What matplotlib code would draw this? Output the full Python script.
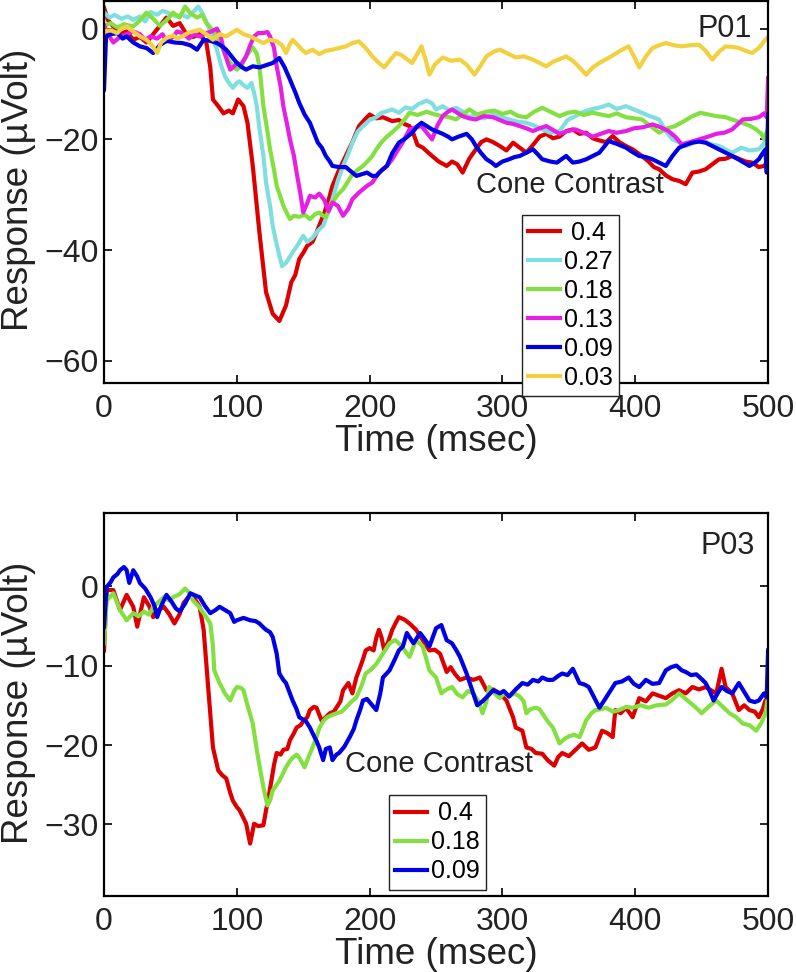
import numpy as np
import matplotlib
matplotlib.use("Agg")
import matplotlib.pyplot as plt

plt.rcParams['font.family'] = ['Liberation Sans', 'DejaVu Sans']

# ---- P01 (t in msec, response in uV) ----
p01_red = [(0, 3.8), (3, 1.5), (7, 0.4), (12, -1.0), (17, -0.5), (22, -2.0), (27, -1.5), (32, -2.5),
           (37, -1.0), (42, 0.5), (47, 2.0), (52, 0.5), (57, 1.0), (62, -1.0), (67, -1.5), (72, -1.0),
           (77, -2.5), (80, -7), (82, -12.8), (86, -14), (90, -15.3), (94, -14.8), (97, -15.3),
           (101, -12.8), (105, -14), (108, -17), (112, -24.8), (117, -36.8), (122, -47.6), (127, -51.5),
           (132, -52.8), (137, -50), (141, -45.8), (144, -44.5), (147, -41.6), (150, -40.5), (153, -39.2),
           (157, -38.5), (160, -36.8), (163, -35), (166, -33.2), (169, -31), (172, -28.4), (177, -25.5),
           (182, -23), (187, -20.5), (192, -17.6), (196, -16.5), (200, -15.5), (205, -16.2), (210, -16),
           (217, -16.7), (222, -16.5), (226, -17.2), (230, -17.6), (233, -19), (236, -21), (240, -21.5),
           (247, -23), (252, -24), (258, -24.8), (262, -24.0), (266, -24.5), (270, -26), (275, -23.5),
           (280, -21.8), (284, -20.5), (288, -20), (293, -20.5), (298, -21.2), (303, -22), (308, -20.6),
           (313, -21.5), (318, -22.4), (323, -21), (328, -19.5), (333, -19), (338, -19.8), (343, -19.5),
           (348, -18.5), (353, -18.2), (358, -19), (363, -18.8), (368, -19.8), (373, -20.2), (378, -20.5),
           (383, -19.4), (388, -20.5), (393, -21.2), (398, -21.8), (405, -23), (410, -24), (414, -25),
           (418, -25.4), (423, -26.5), (428, -27.2), (433, -27.5), (438, -28.1), (443, -26), (448, -25.8),
           (453, -25.4), (458, -24.5), (463, -23.6), (468, -23.5), (473, -23), (478, -23.5), (483, -24),
           (488, -24.2), (493, -25), (497, -24.8), (500, -24)]

p01_cyan = [(0, 2.9), (4, 2.0), (8, 2.5), (13, 1.8), (18, 2.2), (22, 1.6), (27, 2.2), (31, 1.3), (35, 3.0),
            (40, 2.5), (44, 3.2), (47, 3.0), (51, 2.5), (55, 2.2), (59, 2.5), (63, 2.0), (67, 3.0), (71, 4.0),
            (74, 2.8), (77, 1.3), (81, -1), (85, -3.8), (88, -6.5), (91, -8.6), (94, -9.8), (97, -10.7),
            (100, -9.8), (102, -9.5), (105, -10.2), (108, -10.7), (111, -9.8), (113, -11.6), (115, -14),
            (117, -18), (120, -23), (122, -27.8), (125, -32), (127, -35.6), (130, -39), (134, -42.9),
            (137, -42.3), (140, -41.2), (142, -40.4), (146, -39), (150, -37.4), (153, -38.5), (157, -37.8),
            (161, -36.5), (165, -35.6), (169, -33), (172, -30.8), (176, -27.5), (180, -24.8), (184, -22.5),
            (187, -20.6), (191, -18.6), (195, -17.6), (200, -16.5), (205, -16), (209, -15.2), (213, -14.9),
            (217, -14.6), (222, -15.2), (227, -14.2), (232, -14.5), (237, -13.6), (243, -13), (247, -13.5),
            (250, -14.6), (255, -14), (260, -14.8), (265, -14.3), (270, -15), (275, -16), (280, -15.5),
            (286, -16.2), (293, -15.5), (299, -16), (305, -16.4), (311, -16.8), (318, -17), (324, -17.5),
            (330, -18.2), (336, -18.8), (343, -18.5), (349, -16.5), (355, -15.8), (361, -15), (368, -14.5),
            (374, -14.2), (380, -13.7), (386, -14.5), (393, -14), (399, -14.6), (405, -15.2), (411, -15.8),
            (418, -16.4), (423, -18.5), (428, -20), (433, -20.5), (438, -21.2), (444, -20.5), (450, -20),
            (456, -20.8), (463, -21.2), (468, -21.8), (473, -22.4), (480, -21.5), (486, -22), (493, -21.8),
            (498, -20.5), (500, -19)]

p01_green = [(0, 0.5), (5, 1.0), (10, 0.2), (15, 0.8), (22, 0.4), (27, 1.5), (32, 2.9), (37, 1.8), (42, 0.5),
             (47, 1.5), (52, 2.9), (57, 2.0), (61, 4.0), (65, 2.8), (70, 2.0), (74, 2.5), (77, 1.0), (81, 0),
             (85, -1.4), (88, -3), (92, -5), (96, -6.5), (100, -7.4), (104, -6.5), (107, -5), (110, -4),
             (112, -3.4), (115, -4.5), (117, -6.8), (120, -14), (123, -18.5), (125, -21.8), (128, -25.5),
             (130, -28.4), (133, -30.5), (135, -32), (138, -33.5), (140, -34.4), (143, -33.8), (147, -34),
             (151, -33.6), (155, -34.4), (159, -33.5), (162, -33.2), (165, -33.8), (167, -34), (170, -32.5),
             (172, -31.4), (176, -30), (180, -29), (184, -27.5), (187, -26.3), (191, -25.5), (195, -24.8),
             (199, -23.8), (202, -23), (205, -21.8), (209, -20.5), (213, -19.5), (218, -18.5), (222, -17.6),
             (226, -16.5), (230, -15.2), (236, -15.6), (243, -15), (249, -15.5), (255, -15.8), (260, -16),
             (265, -16.4), (270, -15.5), (275, -14.6), (281, -15.5), (288, -15), (294, -14.8), (300, -15.4),
             (306, -15), (312, -15.8), (318, -16), (324, -15), (330, -14.3), (336, -15), (343, -15.8),
             (349, -15.2), (355, -15), (361, -15.6), (368, -15.2), (374, -15.5), (380, -15.8), (386, -15.3),
             (393, -16), (399, -16.2), (405, -16.4), (411, -17.5), (418, -18.8), (424, -18), (430, -17.6),
             (436, -16.8), (443, -15.8), (449, -15.2), (455, -15.5), (461, -15.8), (468, -16), (474, -16.5),
             (480, -17), (486, -17.5), (491, -18.2), (495, -19), (497, -20), (500, -18)]

p01_magenta = [(0, 0.6), (3, -1.0), (7, -2.5), (12, -1.5), (17, -1.0), (22, -0.5), (27, -1.0), (31, -2.0),
               (35, -1.4), (40, -1.8), (44, -1.0), (47, -2.3), (52, -1.5), (55, -0.5), (59, -0.8), (64, -1.8),
               (68, -1.0), (72, -1.4), (77, -0.8), (81, -0.5), (85, 0), (88, -1.5), (90, -3.8), (93, -6),
               (95, -7.4), (98, -6.8), (100, -6.2), (103, -6.5), (107, -5), (110, -3), (113, -1.4), (116, -0.8),
               (120, -0.8), (123, -0.6), (125, -1.4), (128, -3.5), (130, -6.8), (133, -10.5), (135, -14),
               (138, -17.5), (140, -20), (143, -23), (145, -26), (148, -30), (150, -33.2), (153, -31.5),
               (155, -30.2), (159, -30.5), (162, -29.8), (166, -31), (169, -33), (172, -31.4), (176, -32),
               (180, -33.8), (184, -32.5), (187, -30.8), (192, -29.6), (198, -28.4), (202, -27.8), (207, -26),
               (213, -24.8), (217, -23.6), (220, -22.4), (225, -20.5), (230, -18.2), (235, -17.8), (239, -17.6),
               (243, -18.8), (247, -20), (251, -17.5), (255, -15.8), (259, -15), (262, -14.6), (266, -15.2),
               (270, -15.8), (275, -16.2), (280, -16.4), (286, -15.8), (293, -16), (298, -16.5), (303, -17),
               (308, -17.2), (313, -17.6), (318, -18), (323, -18.5), (328, -18), (333, -17.6), (338, -18.3),
               (343, -19), (349, -18.5), (355, -18.2), (361, -18.8), (368, -19.5), (374, -19), (380, -18.5),
               (386, -18.8), (393, -18.5), (399, -18), (406, -17.8), (413, -17.3), (419, -17.8), (425, -18.5),
               (430, -19.5), (435, -20.9), (441, -20.5), (448, -20), (455, -19.5), (461, -19), (467, -18.8),
               (473, -18.2), (477, -17.3), (481, -16.4), (487, -16.3), (493, -16), (497, -15.3), (499, -16),
               (500, -9)]

p01_blue = [(0, -11), (1.5, -1.4), (5, -1.0), (10, -0.8), (14, -1.8), (17, -1.4), (22, -2.5), (27, -3.2),
            (32, -3.5), (37, -4.4), (42, -3.0), (47, -2.2), (53, -2.5), (59, -2.6), (65, -3.0), (70, -3.8),
            (75, -2.0), (80, -2.2), (85, -2.6), (89, -3.2), (92, -3.8), (96, -5), (100, -6.2), (104, -7),
            (107, -7.4), (112, -6.8), (117, -7), (122, -6.6), (127, -6.2), (132, -5.3), (136, -7), (140, -9.2),
            (144, -11.5), (147, -13.4), (151, -15.5), (155, -17), (158, -18.8), (161, -20.6), (164, -21.5),
            (167, -23), (170, -24), (172, -24.8), (177, -25), (182, -25), (186, -25.8), (190, -26.6),
            (194, -26.3), (198, -26), (202, -26.6), (205, -26.6), (209, -25.6), (213, -24.8), (217, -22.5),
            (222, -20.6), (227, -19.8), (232, -18.8), (236, -17.6), (239, -17), (243, -17.6), (247, -18.2),
            (251, -18.6), (255, -19), (259, -19.5), (262, -20), (267, -19.5), (273, -19), (277, -20),
            (280, -21.2), (284, -22.5), (288, -23.6), (292, -24.2), (295, -24.8), (300, -24), (305, -23.6),
            (309, -23.2), (313, -23), (318, -22.4), (323, -21.8), (327, -22.8), (330, -23.6), (336, -24),
            (341, -24.2), (345, -23.5), (348, -23), (353, -24.2), (358, -24), (363, -23.6), (368, -23),
            (373, -22.4), (377, -21.2), (380, -20.3), (386, -20.8), (393, -21.5), (398, -22.3), (403, -23),
            (408, -23.2), (413, -23.6), (418, -24.2), (423, -24.8), (428, -23), (433, -21.5), (438, -21),
            (443, -20.6), (448, -20.4), (453, -20.6), (458, -21.2), (463, -21.8), (468, -22.4), (473, -23),
            (479, -23.8), (486, -24.8), (490, -24.2), (493, -23.6), (496, -22.5), (498, -21.8), (499, -26),
            (500, -15.5)]

p01_yellow = [(0, -0.5), (5, -0.3), (10, -0.8), (13, 0), (17, 0.4), (22, -0.5), (27, -1.4), (32, -2.0),
              (36, -3.0), (40, -4.4), (43, -2.5), (47, -1.7), (52, -1.2), (55, -1.8), (59, -1.4), (63, -0.8),
              (67, -0.5), (72, -0.2), (77, -1.0), (82, -2.0), (87, -1.0), (92, -1.4), (96, -0.8), (100, -0.2),
              (105, -1.0), (110, -1.4), (115, -2.0), (120, -2.6), (125, -2.0), (130, -2.3), (134, -3.0),
              (137, -4.4), (140, -2.8), (142, -2.0), (146, -3.0), (149, -3.8), (152, -4.4), (157, -3.8),
              (162, -4.6), (167, -4.0), (172, -3.8), (177, -3.5), (182, -3.2), (187, -2.6), (192, -2.3),
              (197, -3.5), (202, -5.0), (206, -6.0), (211, -7.0), (216, -5.5), (220, -4.4), (224, -4.8),
              (228, -5.5), (232, -6.2), (236, -4.5), (239, -3.2), (242, -5.5), (245, -8.3), (249, -6.5),
              (255, -5.2), (261, -5.8), (268, -5.6), (273, -6.5), (279, -8.3), (284, -6.5), (288, -5.0),
              (293, -4.2), (298, -3.8), (304, -4.5), (310, -5.2), (316, -5.0), (323, -5.6), (328, -6.2),
              (333, -6.8), (338, -6.0), (343, -5.5), (348, -5.0), (353, -5.8), (358, -7.0), (363, -8.3),
              (368, -7.0), (373, -6.2), (379, -5.4), (386, -4.4), (390, -3.8), (395, -3.2), (399, -5),
              (403, -7.0), (408, -5), (413, -3.5), (418, -3.0), (423, -2.6), (429, -3.0), (435, -3.2),
              (441, -3.0), (448, -2.9), (453, -4.0), (458, -5.6), (463, -4.2), (468, -3.2), (473, -3.3),
              (478, -3.5), (483, -4.0), (488, -4.4), (493, -3.5), (498, -2.0), (500, -1.5)]

# ---- P03 ----
p03_red = [(0, -8.1), (2, -0.5), (7, -0.5), (12, -3.0), (17, -1.1), (22, -2.6), (25, -5.1), (30, -1.4),
           (34, -2.5), (37, -3.9), (41, -3.0), (45, -2.6), (49, -3.5), (53, -4.7), (57, -3.5), (60, -2.1),
           (65, -1.1), (69, -1.8), (72, -2.6), (75, -5.5), (78, -11.8), (80, -16), (82, -20.3), (86, -23.2),
           (89, -23.8), (92, -24.2), (95, -26), (97, -27), (100, -27.8), (102, -28.2), (105, -29.2),
           (107, -29.9), (110, -32.4), (113, -29.9), (116, -30.2), (120, -30.1), (122, -28.2), (124, -26.5),
           (126, -24.5), (128, -22.5), (130, -21), (133, -21.2), (135, -20.6), (138, -20.5), (140, -19.4),
           (143, -18.5), (145, -17.8), (148, -17.5), (150, -17), (153, -16.5), (155, -15.6), (158, -15.2),
           (160, -15.3), (164, -17), (167, -16.5), (170, -16), (173, -15.8), (175, -15.3), (178, -14.5),
           (180, -13.1), (184, -12.2), (187, -13.5), (190, -11.5), (192, -10.6), (195, -9.2), (197, -8.1),
           (200, -7.8), (203, -8.1), (205, -6.5), (207, -5.5), (209, -6.5), (211, -8.1), (214, -7),
           (217, -5.5), (220, -4.5), (222, -3.9), (226, -4.2), (230, -4.7), (235, -5.5), (240, -6.8),
           (245, -8.1), (249, -8.0), (253, -8.5), (258, -10.8), (261, -10.2), (264, -11), (268, -11.8),
           (273, -11.5), (278, -11.8), (283, -11.5), (288, -13.1), (293, -13.0), (298, -13.5), (303, -14.4),
           (308, -16.5), (310, -17.8), (315, -18.2), (318, -20.3), (322, -20.5), (325, -21), (330, -21.1),
           (334, -21.9), (339, -22.6), (342, -21.5), (345, -21), (350, -21.4), (355, -20.6), (360, -19.8),
           (365, -20.6), (370, -20.3), (375, -18.2), (379, -18.5), (383, -19), (385, -15.6), (389, -16),
           (393, -15.3), (398, -16.5), (403, -14.1), (408, -14.5), (413, -13.5), (418, -13.8), (423, -14.1),
           (428, -13.5), (433, -13.1), (438, -13.5), (443, -12.7), (448, -13), (453, -12.7), (458, -13.2),
           (461, -13.5), (465, -10.4), (468, -12.7), (473, -13.5), (478, -15.6), (482, -15), (486, -15.6),
           (490, -15.8), (493, -16.5), (496, -15.5), (498, -14.4), (500, -14)]

p03_green = [(0, -7.2), (2, -1.8), (7, -0.9), (12, -3.0), (17, -4.3), (22, -3.4), (26, -3.8), (30, -3.2),
             (34, -3.6), (37, -2.6), (41, -2.0), (45, -1.4), (49, -1.8), (52, -1.4), (57, -1.0), (61, -0.3),
             (64, -0.8), (67, -1.8), (71, -2.5), (75, -3.4), (80, -4.7), (82, -7.5), (83, -10.6), (87, -12.2),
             (91, -13.5), (95, -14.4), (98, -13.2), (100, -12.7), (103, -12.8), (105, -13.1), (108, -15),
             (112, -17.3), (114, -19.5), (116, -21.6), (118, -23.5), (120, -25.3), (123, -27.6), (125, -27),
             (127, -25.7), (130, -25), (132, -24.5), (135, -23.5), (137, -22.8), (140, -22), (142, -21.6),
             (145, -21.2), (147, -21.6), (151, -22.8), (154, -21.5), (157, -20.3), (160, -19), (162, -17.9),
             (165, -17), (168, -16.5), (172, -16.2), (175, -16), (179, -15.8), (182, -15.3), (186, -14.6),
             (190, -14), (194, -12.5), (197, -11), (201, -10.5), (205, -9.8), (210, -8.5), (215, -7.2),
             (219, -6.8), (222, -7.2), (226, -8), (230, -8.9), (235, -6.8), (240, -7.6), (245, -10.6),
             (250, -11.5), (254, -13.5), (258, -13.0), (262, -12.7), (266, -13.6), (270, -14), (274, -13.2),
             (278, -13.5), (282, -14.5), (285, -16), (288, -14.5), (290, -12.7), (294, -13.5), (298, -14.1),
             (301, -13.5), (305, -13.9), (309, -13.5), (313, -13.9), (316, -14.5), (318, -16), (321, -15.5),
             (325, -15.3), (328, -15.5), (330, -16), (334, -17), (338, -17.8), (341, -19), (343, -19.8),
             (347, -19.2), (350, -18.9), (354, -18.7), (358, -19), (361, -17.8), (363, -16.9), (367, -16),
             (370, -15.6), (374, -15.5), (378, -15.3), (383, -15.8), (388, -15.6), (393, -15.2), (398, -15.3),
             (404, -15.0), (410, -15.3), (416, -15.0), (423, -14.9), (428, -14.3), (433, -13.5), (438, -14.2),
             (443, -14.9), (447, -15.5), (450, -16), (455, -15.2), (461, -14.4), (466, -15.2), (471, -16),
             (476, -16.5), (481, -17.3), (486, -17.5), (491, -18.2), (495, -17.2), (498, -16), (500, -14)]

p03_blue = [(0, -5.1), (2, -0.1), (5, 0.5), (7, 1.1), (10, 1.5), (12, 2.0), (15, 2.4), (17, 2.0), (19, 0.4),
            (22, 2.0), (25, 1.2), (27, 0.4), (31, -0.3), (35, -1.4), (38, -2.5), (40, -3.9), (43, -2.5),
            (47, -1.1), (51, -2.0), (54, -2.8), (57, -3.2), (61, -2.2), (65, -0.9), (69, -1.2), (72, -1.4),
            (76, -2.5), (80, -3.4), (84, -3.0), (87, -2.6), (91, -3.0), (95, -3.4), (98, -4.5), (100, -4.3),
            (105, -4.0), (110, -4.3), (114, -4.4), (117, -4.7), (120, -5.2), (122, -5.5), (125, -5.8),
            (127, -6.4), (130, -8.5), (132, -11), (135, -11.8), (137, -12.2), (140, -13.5), (142, -14.4),
            (145, -15.5), (147, -16.5), (150, -16.8), (152, -17), (155, -17.8), (157, -18.5), (160, -19.5),
            (162, -20.3), (165, -21.9), (167, -20.5), (170, -20.3), (172, -21.9), (175, -21.2), (177, -21),
            (181, -20.2), (185, -19), (188, -18), (190, -16.9), (193, -15.5), (195, -14.4), (198, -14.2),
            (200, -14.6), (205, -15.6), (208, -13.5), (210, -11.5), (215, -10.6), (219, -9.2), (222, -8.1),
            (225, -7.6), (228, -5.9), (233, -7.2), (238, -5.9), (242, -6.8), (245, -7.6), (250, -5.3),
            (254, -4.9), (258, -6.8), (262, -7.2), (265, -8), (268, -8.9), (273, -11), (278, -13.5),
            (281, -15), (285, -14.5), (288, -14), (293, -13.1), (298, -13.5), (301, -13.2), (305, -13.9),
            (310, -13), (315, -12.2), (319, -12.4), (323, -11.8), (327, -12.0), (330, -11.5), (334, -11.8),
            (338, -11.8), (342, -11.3), (345, -11), (349, -11.2), (353, -10.4), (358, -12.2), (362, -12.4),
            (365, -12.7), (369, -14), (373, -15.3), (377, -14.3), (380, -13.5), (385, -12.2), (390, -12.0),
            (395, -11.5), (399, -12.3), (403, -12.7), (408, -11.8), (413, -12.3), (418, -12.2), (423, -10.6),
            (427, -10.2), (431, -10), (435, -10.6), (438, -10.8), (442, -11.2), (446, -11.1), (450, -11.7),
            (453, -12.2), (456, -13.2), (459, -14.4), (462, -13.5), (465, -12.7), (469, -13.2), (473, -13.5),
            (478, -12.2), (482, -13.3), (486, -14.4), (490, -14.6), (493, -14.4), (497, -13.5), (499, -14),
            (500, -8.1)]

p01_labels = [' 0.4', '0.27', '0.18', '0.13', '0.09', '0.03']
p03_labels = [' 0.4', '0.18', '0.09']

c_red = '#dc0000'
c_cyan = '#7fdfe0'
c_green = '#84e040'
c_magenta = '#e61ee6'
c_blue = '#0000e6'
c_yellow = '#f2d040'

fig = plt.figure(figsize=(7.96, 9.72), dpi=100)
ax1 = fig.add_axes([0.1307, 0.6060, 0.8342, 0.3930])
ax2 = fig.add_axes([0.1307, 0.0782, 0.8342, 0.3940])

for ser, col, lab in zip([p01_red, p01_cyan, p01_green, p01_magenta, p01_blue, p01_yellow],
                         [c_red, c_cyan, c_green, c_magenta, c_blue, c_yellow], p01_labels):
    t, v = np.array(ser).T
    ax1.plot(t, v, color=col, lw=3.0, label=lab)

for ser, col, lab in zip([p03_red, p03_green, p03_blue], [c_red, c_green, c_blue], p03_labels):
    t, v = np.array(ser).T
    ax2.plot(t, v, color=col, lw=3.0, label=lab)

ax1.set_ylim(-64, 5)
ax1.set_yticks([-60, -40, -20, 0])
ax2.set_ylim(-39, 9.2)
ax2.set_yticks([-30, -20, -10, 0])

for ax, leg_xy, cc_xy, name, name_xy in [
        (ax1, (0.6295, 0.4398), (0.560, 0.518), 'P01', (0.976, 0.927)),
        (ax2, (0.4292, 0.2637), (0.363, 0.345), 'P03', (0.980, 0.914))]:
    ax.set_xlim(0, 500)
    ax.set_xticks([0, 100, 200, 300, 400, 500])
    ax.tick_params(direction='in', top=True, right=True, length=6, width=1.4,
                   labelsize=23, colors='#222222')
    ax.tick_params(axis='x', pad=8)
    ax.tick_params(axis='y', pad=4)
    for s in ax.spines.values():
        s.set_linewidth(1.6)
    ax.set_xlabel('Time (msec)', fontsize=26.5, labelpad=0, color='#222222')
    ax.set_ylabel('Response (µVolt)', fontsize=26.5, color='#222222')
    ax.yaxis.set_label_coords(-0.102, 0.505)
    leg = ax.legend(loc='upper left', bbox_to_anchor=leg_xy, fontsize=18, frameon=True,
                    fancybox=False, framealpha=1, edgecolor='#222222', borderpad=0.25,
                    labelspacing=0.2, handlelength=1.28, handletextpad=0.15,
                    borderaxespad=0)
    leg.get_frame().set_linewidth(1.0)
    leg.set_zorder(5)
    ax.text(cc_xy[0], cc_xy[1], 'Cone Contrast', transform=ax.transAxes, fontsize=21,
            ha='left', va='center', color='#222222')
    ax.text(name_xy[0], name_xy[1], name, transform=ax.transAxes, fontsize=22,
            ha='right', va='center', color='#222222')

fig.savefig('out.png', dpi=100)
